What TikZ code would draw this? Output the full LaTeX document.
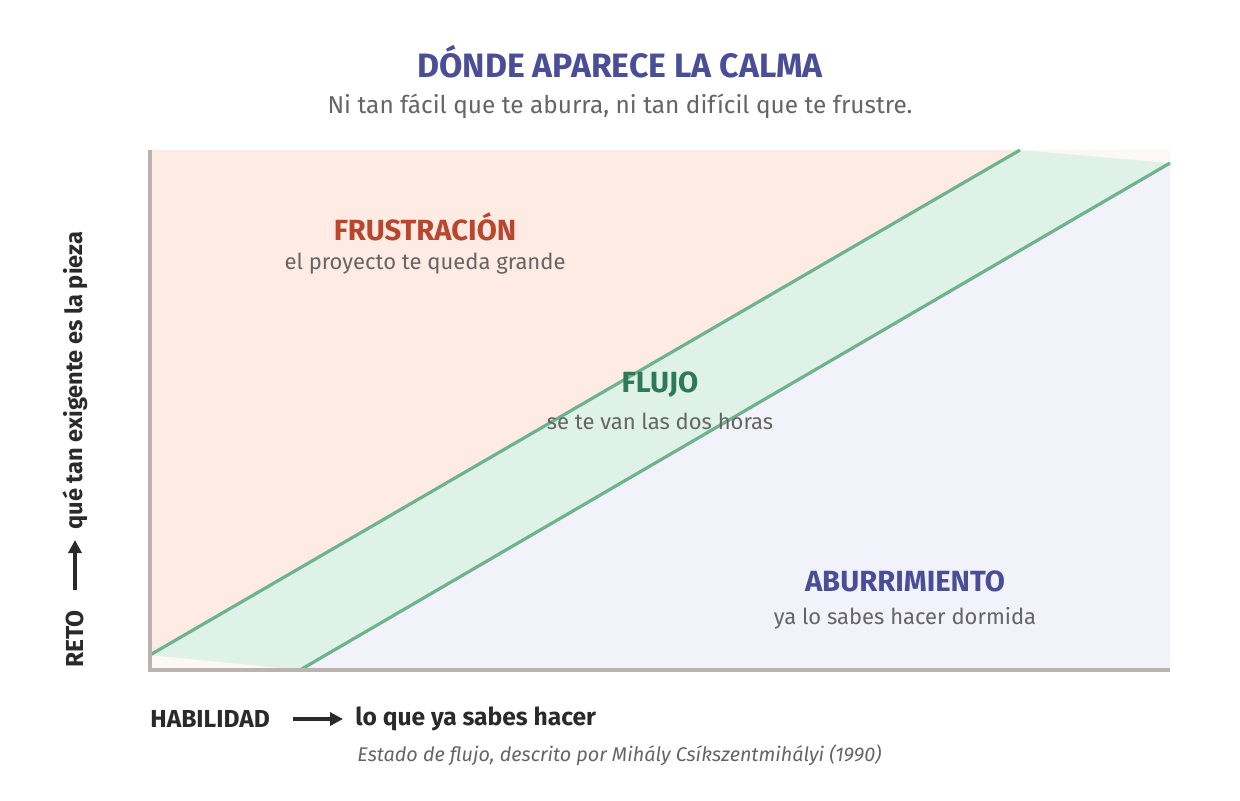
\documentclass[tikz,border=0pt]{standalone}
\usepackage{fontspec}
\setmainfont{Fira Sans}
\usetikzlibrary{arrows.meta}
\definecolor{calma}{HTML}{4A4E97}
\definecolor{frust}{HTML}{B8472E}
\definecolor{flujo}{HTML}{2E7A58}
\definecolor{gristexto}{HTML}{666464}
\definecolor{tinta}{HTML}{2A2A2A}
\definecolor{rosa}{HTML}{FDEBE4}
\definecolor{verdeclaro}{HTML}{DFF2E7}
\definecolor{azulclaro}{HTML}{F1F2FA}
\definecolor{esquina}{HTML}{FCF8F5}
\definecolor{linea}{HTML}{6EB28E}
\definecolor{eje}{HTML}{BDB3AE}
\tikzset{
  zona/.style={font=\bfseries\fontsize{14.6}{16}\selectfont},
  nota/.style={text=gristexto, font=\fontsize{11}{13}\selectfont},
  ejetxt/.style={text=tinta, font=\bfseries\fontsize{12.3}{14}\selectfont},
  borde/.style={linea, line width=1.6pt},
}
\begin{document}
\begin{tikzpicture}[x=0.5pt,y=-0.5pt]
  \useasboundingbox (0,0) rectangle (1240,800);
  % esquinas del grafico
  \coordinate (o) at (150,670);
  \coordinate (tl) at (150,150);
  \coordinate (tr) at (1170,150);
  \coordinate (br) at (1170,670);
  % bordes de la banda
  \coordinate (a1) at (150,655);
  \coordinate (a2) at (1020,150);
  \coordinate (b1) at (300,670);
  \coordinate (b2) at (1170,163);
  % zonas
  \fill[esquina] (tl) rectangle (br);
  \fill[rosa] (tl) -- (a2) -- (a1) -- cycle;
  \fill[azulclaro] (b1) -- (b2) -- (br) -- cycle;
  \fill[verdeclaro] (a1) -- (a2) -- (b2) -- (b1) -- cycle;
  \draw[borde] (a1) -- (a2);
  \draw[borde] (b1) -- (b2);
  \draw[eje, line width=1.6pt] (tl) -- (o) -- (br);
  % textos
  \node (titulo) at (620,62) {\color{calma}\bfseries\fontsize{16.9}{19}\selectfont DÓNDE APARECE LA CALMA};
  \node[nota, font=\fontsize{12.2}{14}\selectfont] (sub) at (620,106) {Ni tan fácil que te aburra, ni tan difícil que te frustre.};
  \node[zona, text=frust] (frus) at (425,227) {FRUSTRACIÓN};
  \node[nota] (frusn) at (425,264) {el proyecto te queda grande};
  \node[zona, text=flujo] (fluj) at (660,385) {FLUJO};
  \node[nota] (flujn) at (660,421) {se te van las dos horas};
  \node[zona, text=calma] (abur) at (905,581) {ABURRIMIENTO};
  \node[nota] (aburn) at (905,618) {ya lo sabes hacer dormida};
  % eje x
  \node[ejetxt, anchor=west, inner sep=0pt] (hab) at (150,719) {HABILIDAD};
  \node[ejetxt, anchor=west, inner sep=0pt] (hace) at (355,719) {lo que ya sabes hacer};
  \draw[tinta, line width=1.6pt, -{Triangle[length=6.5pt,width=6.5pt]}] (293,719) -- ([xshift=-6pt]hace.west);
  \node[nota, font=\itshape\fontsize{9.9}{12}\selectfont, anchor=west, inner sep=0pt] (cita) at (357,755) {Estado de flujo, descrito por Mihály Csíkszentmihályi (1990)};
  % eje y
  \node[ejetxt, rotate=90, anchor=west, inner sep=0pt] (reto) at (75,668) {RETO};
  \node[ejetxt, font=\bfseries\fontsize{11.8}{14}\selectfont, rotate=90, anchor=west, inner sep=0pt] (exig) at (75,530) {qué tan exigente es la pieza};
  \draw[tinta, line width=1.6pt, -{Triangle[length=6.5pt,width=6.5pt]}] (75,590) -- ([yshift=-5pt]exig.west);
\end{tikzpicture}
\end{document}
